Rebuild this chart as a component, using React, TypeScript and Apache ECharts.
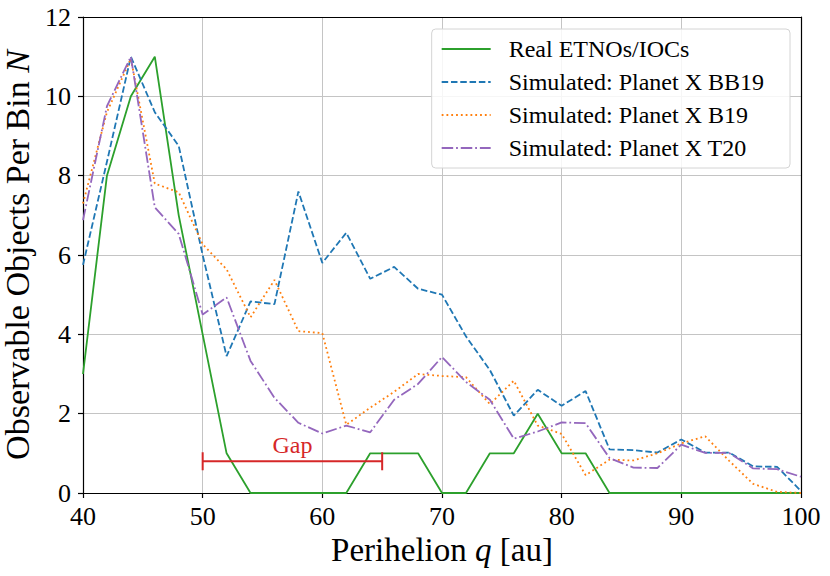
import React, { useEffect, useRef } from "react";
import * as echarts from "echarts";

const perihelion = [40, 42, 44, 46, 48, 50, 52, 54, 56, 58, 60, 62, 64, 66, 68, 70, 72, 74, 76, 78, 80, 82, 84, 86, 88, 90, 92, 94, 96, 98, 100];
const realObjects = [3, 8, 10, 11, 7, 4, 1, 0, 0, 0, 0, 0, 1, 1, 1, 0, 0, 1, 1, 2, 1, 1, 0, 0, 0, 0, 0, 0, 0, 0, 0];
const simBB19 = [5.75, 8.35, 11.0, 9.6, 8.75, 6.0, 3.45, 4.83, 4.76, 7.6, 5.8, 6.56, 5.4, 5.7, 5.15, 5.0, 3.95, 3.1, 1.95, 2.6, 2.2, 2.57, 1.1, 1.08, 1.02, 1.35, 1.02, 1.02, 0.67, 0.66, 0.05];
const simB19 = [7.3, 9.6, 10.95, 7.8, 7.58, 6.27, 5.64, 4.43, 5.37, 4.08, 4.03, 1.72, 2.15, 2.55, 3.0, 2.95, 2.92, 2.24, 2.83, 1.7, 1.49, 0.45, 0.84, 0.82, 1.0, 1.25, 1.43, 0.81, 0.23, 0.03, 0.0];
const simT20 = [6.88, 9.75, 11.0, 7.2, 6.53, 4.5, 4.93, 3.33, 2.4, 1.77, 1.5, 1.7, 1.53, 2.35, 2.75, 3.43, 2.8, 2.35, 1.37, 1.55, 1.78, 1.76, 0.88, 0.64, 0.63, 1.22, 1.01, 1.01, 0.62, 0.6, 0.41];
const seriesNames = ["Real ETNOs/IOCs", "Simulated: Planet X BB19", "Simulated: Planet X B19", "Simulated: Planet X T20"];
const gapRange = [50, 65];
const gapLevel = 0.8;
const gapLabel = "Gap";
const gapLabelPos = [57.5, 1.22];

const FONT = "Liberation Serif";

export default function App() {
  const ref = useRef<HTMLDivElement>(null);
  useEffect(() => {
    if (!ref.current) return;
    document.body.style.margin = "0";
    const chart = echarts.init(ref.current, null, { renderer: "svg" });
    const pair = (ys: number[]) => perihelion.map((x, i) => [x, ys[i]]);
    const lw = 1.8;
    chart.setOption({
      animation: false,
      backgroundColor: "#ffffff",
      textStyle: { fontFamily: FONT },
      grid: { left: 83, right: 29, top: 17, bottom: 83, outerBoundsMode: "none", containLabel: false },
      legend: {
        data: seriesNames,
        orient: "vertical",
        right: 40,
        top: 29,
        itemWidth: 49,
        itemHeight: 14,
        itemGap: 9,
        padding: [8, 26, 8, 9],
        borderColor: "#d4d4d4",
        borderWidth: 1,
        borderRadius: 4,
        backgroundColor: "rgba(255,255,255,0.85)",
        itemStyle: { color: "rgba(0,0,0,0)", borderColor: "rgba(0,0,0,0)", borderWidth: 0, opacity: 0 },
        textStyle: { fontSize: 24, fontFamily: FONT, color: "#000", padding: [0, 0, 0, 13], lineHeight: 24 },
      },
      xAxis: [
        {
          type: "value",
          min: 40,
          max: 100,
          interval: 10,
          name: "Perihelion {i|q} [au]",
          nameLocation: "middle",
          nameGap: 32,
          nameTextStyle: {
            fontSize: 33,
            fontFamily: FONT,
            color: "#000",
            rich: { i: { fontSize: 33, fontFamily: FONT, fontStyle: "italic", color: "#000" } },
          },
          axisLine: { show: true, onZero: false, lineStyle: { color: "#000", width: 1.2 } },
          axisTick: { show: true, inside: false, length: 5, lineStyle: { color: "#000", width: 1.2 } },
          axisLabel: { fontSize: 26, fontFamily: FONT, color: "#000", margin: 10 },
          splitLine: { show: true, lineStyle: { color: "#c4c4c4", width: 1 } },
        },
        {
          type: "value",
          position: "top",
          min: 40,
          max: 100,
          axisLine: { show: true, onZero: false, lineStyle: { color: "#000", width: 1.2 } },
          axisTick: { show: false },
          axisLabel: { show: false },
          splitLine: { show: false },
        },
      ],
      yAxis: [
        {
          type: "value",
          min: 0,
          max: 12,
          interval: 2,
          name: "Observable Objects Per Bin {i|N}",
          nameLocation: "middle",
          nameRotate: 90,
          nameGap: 33,
          nameTextStyle: {
            fontSize: 34,
            fontFamily: FONT,
            color: "#000",
            rich: { i: { fontSize: 34, fontFamily: FONT, fontStyle: "italic", color: "#000" } },
          },
          axisLine: { show: true, onZero: false, lineStyle: { color: "#000", width: 1.2 } },
          axisTick: { show: true, inside: false, length: 5, lineStyle: { color: "#000", width: 1.2 } },
          axisLabel: { fontSize: 26, fontFamily: FONT, color: "#000", margin: 12 },
          splitLine: { show: true, lineStyle: { color: "#c4c4c4", width: 1 } },
        },
        {
          type: "value",
          position: "right",
          min: 0,
          max: 12,
          axisLine: { show: true, onZero: false, lineStyle: { color: "#000", width: 1.2 } },
          axisTick: { show: false },
          axisLabel: { show: false },
          splitLine: { show: false },
        },
      ],
      series: [
        {
          name: seriesNames[0],
          type: "line",
          data: pair(realObjects),
          symbol: "none",
          color: "#2ca02c",
          lineStyle: { color: "#2ca02c", width: lw, type: "solid" },
        },
        {
          name: seriesNames[1],
          type: "line",
          data: pair(simBB19),
          symbol: "none",
          color: "#1f77b4",
          lineStyle: { color: "#1f77b4", width: lw, type: [6.5, 2.8] },
        },
        {
          name: seriesNames[2],
          type: "line",
          data: pair(simB19),
          symbol: "none",
          color: "#ff7f0e",
          lineStyle: { color: "#ff7f0e", width: lw, type: [1.8, 3] },
        },
        {
          name: seriesNames[3],
          type: "line",
          data: pair(simT20),
          symbol: "none",
          color: "#9467bd",
          lineStyle: { color: "#9467bd", width: lw, type: [11.5, 2.9, 1.8, 2.9] },
        },
        {
          name: "gap",
          type: "line",
          data: gapRange.map((x) => [x, gapLevel]),
          symbol: "rect",
          symbolSize: [2, 18],
          showSymbol: true,
          color: "#d62728",
          itemStyle: { color: "#d62728" },
          lineStyle: { color: "#d62728", width: lw },
          markPoint: {
            symbol: "rect",
            symbolSize: 1,
            itemStyle: { color: "rgba(0,0,0,0)" },
            label: { show: true, position: "inside", formatter: gapLabel, fontSize: 24, fontFamily: FONT, color: "#d62728" },
            data: [{ coord: gapLabelPos, value: gapLabel }],
          },
        },
      ],
    });
    return () => chart.dispose();
  }, []);
  return <div ref={ref} style={{ width: 830, height: 576 }} />;
}
